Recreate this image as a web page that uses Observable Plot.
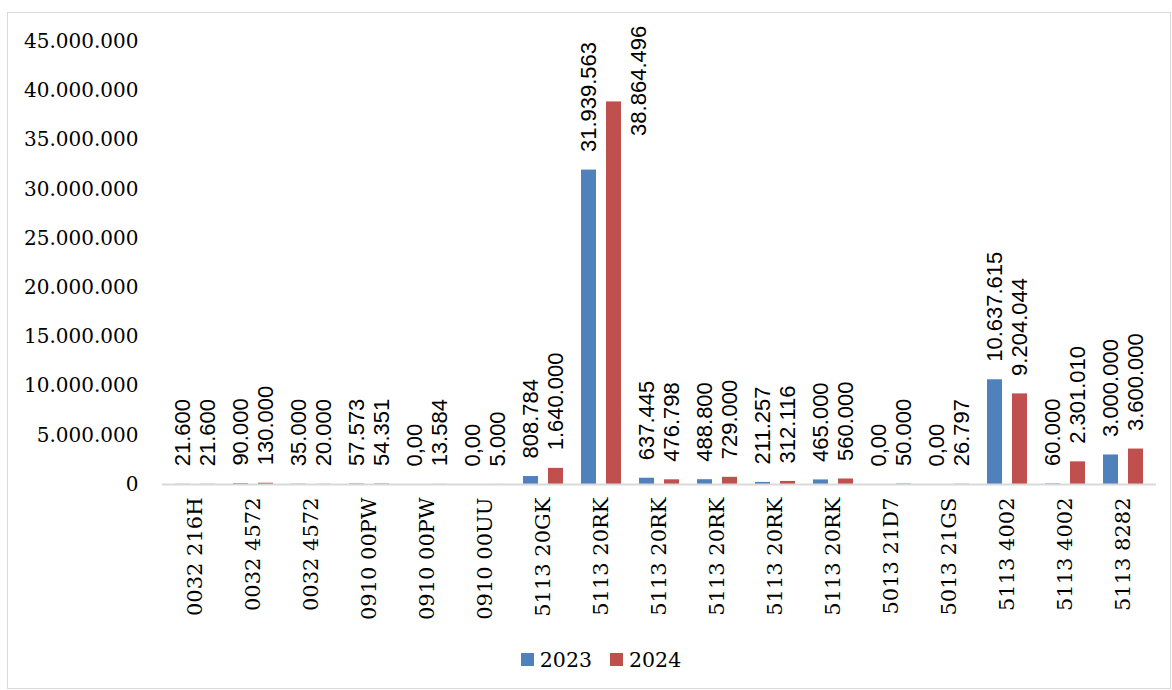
<!DOCTYPE html>
<html>
<head>
<meta charset="utf-8">
<script src="https://cdn.jsdelivr.net/npm/d3@7"></script>
<script src="https://cdn.jsdelivr.net/npm/@observablehq/plot@0.6"></script>
<style>
  html, body { margin: 0; padding: 0; background: #fff; }
  #wrap { position: relative; width: 1172px; height: 690px; overflow: hidden; }
  #chart { position: absolute; left: 0; top: 0; }
  #frame { position: absolute; left: 7px; top: 12px; width: 1164px; height: 677px; box-sizing: border-box; border: 1.5px solid #d9d9d9; pointer-events: none; }
  #legend { position: absolute; top: 647px; left: 15px; width: 1172px; text-align: center; font-family: "DejaVu Serif", serif; font-size: 20.5px; color: #000; }
  #legend span.item { display: inline-flex; align-items: center; margin: 0 9px; }
  #legend span.sw { display: inline-block; width: 13px; height: 13px; margin-right: 6px; }
</style>
</head>
<body>
<div id="wrap">
  <div id="chart"></div>
  <div id="legend"></div>
  <div id="frame"></div>
</div>
<script>
const categories = ["0032 216H","0032 4572","0032 4572","0910 00PW","0910 00PW","0910 00UU","5113 20GK","5113 20RK","5113 20RK","5113 20RK","5113 20RK","5113 20RK","5013 21D7","5013 21GS","5113 4002","5113 4002","5113 8282"];
const series = ["2023", "2024"];
const values2023 = [21600, 90000, 35000, 57573, 0, 0, 808784, 31939563, 637445, 488800, 211257, 465000, 0, 0, 10637615, 60000, 3000000];
const values2024 = [21600, 130000, 20000, 54351, 13584, 5000, 1640000, 38864496, 476798, 729000, 312116, 560000, 50000, 26797, 9204044, 2301010, 3600000];
const yTicks = [0, 5000000, 10000000, 15000000, 20000000, 25000000, 30000000, 35000000, 40000000, 45000000];
const colors = ["#4F81BD", "#C0504D"];

const locale = d3.formatLocale({decimal: ",", thousands: ".", grouping: [3], currency: ["", ""]});
const fmtInt = locale.format(",.0f");
const fmtLabel = v => v === 0 ? "0,00" : fmtInt(v);

const d23 = values2023.map((v, i) => ({i, value: v, series: "2023"}));
const d24 = values2024.map((v, i) => ({i, value: v, series: "2024"}));
const overflow = d => d.value > 36000000;

const labelFont = {fontFamily: "Liberation Sans, Arial, sans-serif", fontSize: 22, fill: "#000", rotate: -90, textAnchor: "start"};

const plot = Plot.plot({
  width: 1172,
  height: 630,
  marginTop: 41,
  marginBottom: 146,
  marginLeft: 162,
  marginRight: 16,
  style: {fontFamily: "DejaVu Serif, serif", fontSize: "20px", color: "#000", background: "transparent"},
  x: {domain: d3.range(categories.length), paddingInner: 0.316, paddingOuter: 0.158, label: null},
  y: {domain: [0, 45000000], label: null},
  marks: [
    Plot.axisY({ticks: yTicks, tickSize: 0, tickPadding: 24, tickFormat: fmtInt, label: null}),
    Plot.axisX({tickSize: 0, tickPadding: 13, tickRotate: -90, tickFormat: i => categories[i], fontSize: 21, label: null}),
    Plot.barY(d23, {x: "i", y: "value", fill: colors[0], insetRight: 25}),
    Plot.barY(d24, {x: "i", y: "value", fill: colors[1], insetLeft: 25}),
    Plot.ruleY([0], {stroke: "#d9d9d9", strokeWidth: 2}),
    Plot.text(d23, {x: "i", y: "value", text: d => fmtLabel(d.value), dx: -12.5, dy: -18, ...labelFont}),
    Plot.text(d24.filter(d => !overflow(d)), {x: "i", y: "value", text: d => fmtLabel(d.value), dx: 12.5, dy: -18, ...labelFont}),
    Plot.text(d24.filter(overflow), {x: "i", y: "value", text: d => fmtLabel(d.value), dx: 37.5, dy: 34, ...labelFont})
  ]
});
document.getElementById("chart").appendChild(plot);

const legend = document.getElementById("legend");
series.forEach((s, k) => {
  const item = document.createElement("span");
  item.className = "item";
  const sw = document.createElement("span");
  sw.className = "sw";
  sw.style.background = colors[k];
  item.appendChild(sw);
  item.appendChild(document.createTextNode(s));
  legend.appendChild(item);
});
</script>
</body>
</html>
